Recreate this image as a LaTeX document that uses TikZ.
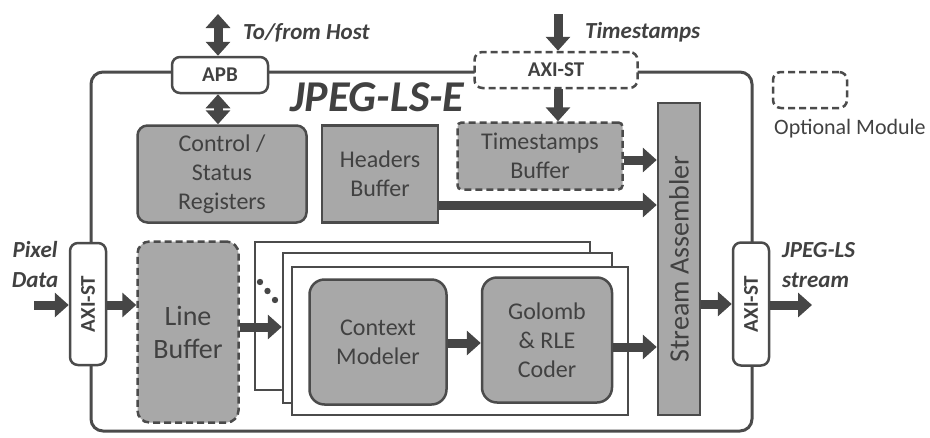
\documentclass[tikz,border=0pt]{standalone}
\usepackage{fontspec}
\setmainfont{Carlito}
\usetikzlibrary{arrows.meta,positioning}
\definecolor{modgray}{RGB}{168,168,168}
\definecolor{edgegray}{RGB}{75,75,75}
\definecolor{busgray}{RGB}{70,70,70}
\definecolor{txtgray}{RGB}{65,65,65}
\begin{document}
\begin{tikzpicture}[x=1pt, y=-1pt, node distance=160pt,
    module/.style={rectangle, draw=edgegray, line width=2.5pt, fill=modgray, text=txtgray, align=center, inner sep=0pt, font=\fontsize{24}{29}\selectfont},
    optional/.style={module, dash pattern=on 7pt off 4pt},
    port/.style={rectangle, draw=edgegray, line width=2.5pt, fill=white, rounded corners=8pt, text=txtgray, inner sep=0pt, font=\bfseries\fontsize{21}{24}\selectfont},
    card/.style={rectangle, draw=edgegray, line width=2.5pt, fill=white},
    tag/.style={text=txtgray, inner sep=0pt, font=\bfseries\itshape\fontsize{23}{30}\selectfont},
    bus/.style={draw=busgray, line width=9pt, -{Triangle[length=14pt,width=24pt]}},
    dbus/.style={bus, {Triangle[length=14pt,width=24pt]}-{Triangle[length=14pt,width=24pt]}}]
    \useasboundingbox (0,0) rectangle (930,437);

    % outer core
    \node[rectangle, draw=edgegray, line width=3pt, rounded corners=12pt, minimum width=661pt, minimum height=359pt] (core) at (421.5,251.5) {};
    \node[tag, anchor=west, font=\bfseries\itshape\fontsize{44}{48}\selectfont] (title) at (290,97) {JPEG-LS-E};

    % host side
    \node[port, minimum width=96pt, minimum height=36pt] (apb) at (220,75) {APB};
    \node[module, rounded corners=10pt, minimum width=169pt, minimum height=97pt] (ctrl) at (222,174) {Control /\\Status\\Registers};
    \node[module, minimum width=116pt, minimum height=97pt, right of=ctrl, xshift=-2pt] (hdr) {Headers\\Buffer};
    \node[optional, rounded corners=4pt, minimum width=165pt, minimum height=67pt] (tbuf) at (540,156) {Timestamps\\Buffer};
    \node[port, dash pattern=on 7pt off 4pt, minimum width=163pt, minimum height=36pt] (taxi) at (556,70) {AXI-ST};

    % pipeline
    \node[port, minimum width=36pt, minimum height=122pt] (laxi) at (88,304) {};
    \node[port, draw=none, fill=none, rotate=90] (laxitxt) at (laxi) {AXI-ST};
    \node[optional, rounded corners=12pt, minimum width=101pt, minimum height=181pt, font=\fontsize{28}{33}\selectfont] (lbuf) at (188,332) {Line\\Buffer};
    \node[card, minimum width=335pt, minimum height=148pt] (card1) at (422.5,316) {};
    \node[card, minimum width=329pt, minimum height=150pt] (card2) at (447.5,328) {};
    \node[card, minimum width=336pt, minimum height=148pt] (card3) at (460,341) {};
    \foreach \d in {0,1,2}
        \fill[busgray] (260+7.5*\d, 282+9*\d) circle (3.2pt);
    \node[module, rounded corners=15pt, minimum width=137pt, minimum height=125pt] (ctx) at (378,342) {Context\\Modeler};
    \node[module, rounded corners=15pt, minimum width=130pt, minimum height=125pt] (gol) at (547,340) {Golomb\\\& RLE\\Coder};
    \node[module, minimum width=42pt, minimum height=312pt] (sa) at (679,259) {};
    \node[text=txtgray, rotate=90, font=\fontsize{28}{30}\selectfont] (satxt) at (sa) {Stream Assembler};
    \node[port, minimum width=36pt, minimum height=123pt] (raxi) at (751,304) {};
    \node[port, draw=none, fill=none, rotate=90] (raxitxt) at (raxi) {AXI-ST};

    % legend
    \node[rectangle, draw=edgegray, line width=2.5pt, dash pattern=on 7pt off 4pt, rounded corners=8pt, minimum width=74pt, minimum height=36pt] (legend) at (810,90) {};
    \node[text=txtgray, font=\fontsize{22}{24}\selectfont, below=6pt of legend, xshift=40pt] (legendtxt) {Optional Module};

    % outside labels
    \coordinate (host) at (218,14);
    \coordinate (tsin) at (558,14);
    \coordinate (pin) at (34,305);
    \coordinate (pout) at (812,305);
    \node[tag, anchor=west] (hostlbl) at (243,33) {To/from Host};
    \node[tag, anchor=west] (tslbl) at (585,32) {Timestamps};
    \node[tag, align=center] (pixlbl) at (35,265) {Pixel\\Data};
    \node[tag, align=left, anchor=west] (outlbl) at (782,265) {JPEG-LS\\stream};

    \draw[dbus] (host) -- (apb.north -| host);
    \draw[dbus] (apb.south -| host) -- (ctrl.north -| host);
    \draw[bus] (tsin) -- (taxi.north -| tsin);
    \draw[bus] (taxi.south -| tsin) -- (tbuf.north -| tsin);
    \draw[bus] (tbuf.east |- 0,160) -- (sa.west |- 0,160);
    \draw[bus] ([yshift=-31pt]hdr.east) -- ([yshift=-31pt]hdr.east -| sa.west);
    \draw[bus] (pin) -- (laxi.west |- pin);
    \draw[bus] (laxi.east |- pin) -- (lbuf.west |- pin);
    \draw[bus] ([yshift=5pt]lbuf.east) -- ([yshift=5pt]lbuf.east -| card2.west);
    \draw[bus] (ctx.east |- 0,343) -- (gol.west |- 0,343);
    \draw[bus] ([yshift=-7pt]gol.east) -- ([yshift=-7pt]gol.east -| sa.west);
    \draw[bus] (sa.east |- raxi) -- (raxi.west);
    \draw[bus] (raxi.east |- pout) -- (pout);
\end{tikzpicture}
\end{document}
